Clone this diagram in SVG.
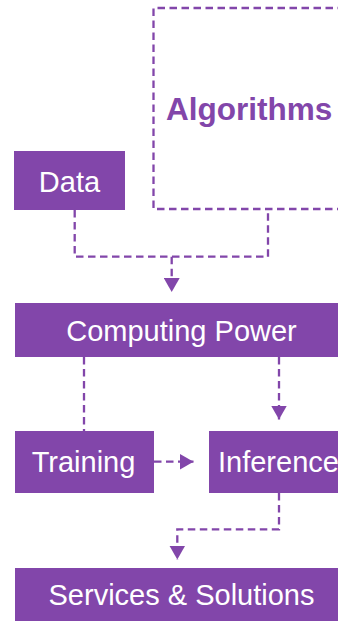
<svg xmlns="http://www.w3.org/2000/svg" width="338" height="621" viewBox="0 0 338 621">
<style>
.box{fill:#8246AA}
.lbl{fill:#fff;font-family:"Liberation Sans",Arial,sans-serif;font-size:29px}
.dash{fill:none;stroke:#8246AA;stroke-width:2.3;stroke-dasharray:7.5 4.5}
</style>
<defs>
<marker id="ah" viewBox="0 0 14 16" refX="14" refY="8" markerWidth="14" markerHeight="16" markerUnits="userSpaceOnUse" orient="auto">
<path d="M0,0 L14,8 L0,16 Z" fill="#8246AA"/>
</marker>
</defs>
<g id="algorithms">
<path class="dash" d="M345,8 H153.5 V209 H345"/>
<text x="166" y="120" font-family="Liberation Sans,Arial,sans-serif" font-weight="bold" font-size="31.5" fill="#8246AA">Algorithms</text>
</g>
<g id="data">
<rect class="box" x="14" y="151" width="111" height="59"/>
<text class="lbl" x="69.5" y="192" text-anchor="middle">Data</text>
</g>
<g id="computing">
<rect class="box" x="15" y="303" width="330" height="54"/>
<text class="lbl" x="181.5" y="341" text-anchor="middle">Computing Power</text>
</g>
<g id="training">
<rect class="box" x="15" y="431" width="139" height="62"/>
<text class="lbl" x="83.5" y="472" text-anchor="middle">Training</text>
</g>
<g id="inference">
<rect class="box" x="209" y="431" width="140" height="62"/>
<text class="lbl" x="218" y="472">Inference</text>
</g>
<g id="services">
<rect class="box" x="15" y="568" width="330" height="53"/>
<text class="lbl" x="181.5" y="605" text-anchor="middle">Services &amp; Solutions</text>
</g>
<g id="connectors">
<path class="dash" d="M74.7,210 V256.7 H268 V209"/>
<path class="dash" d="M171.7,256.7 V292" marker-end="url(#ah)"/>
<path class="dash" d="M84,357 V431"/>
<path class="dash" d="M279,357 V419.5" marker-end="url(#ah)"/>
<path class="dash" d="M154,461.7 H193.5" marker-end="url(#ah)"/>
<path class="dash" d="M279,493 V529.3 H177.3 V559.5" marker-end="url(#ah)"/>
</g>
</svg>
